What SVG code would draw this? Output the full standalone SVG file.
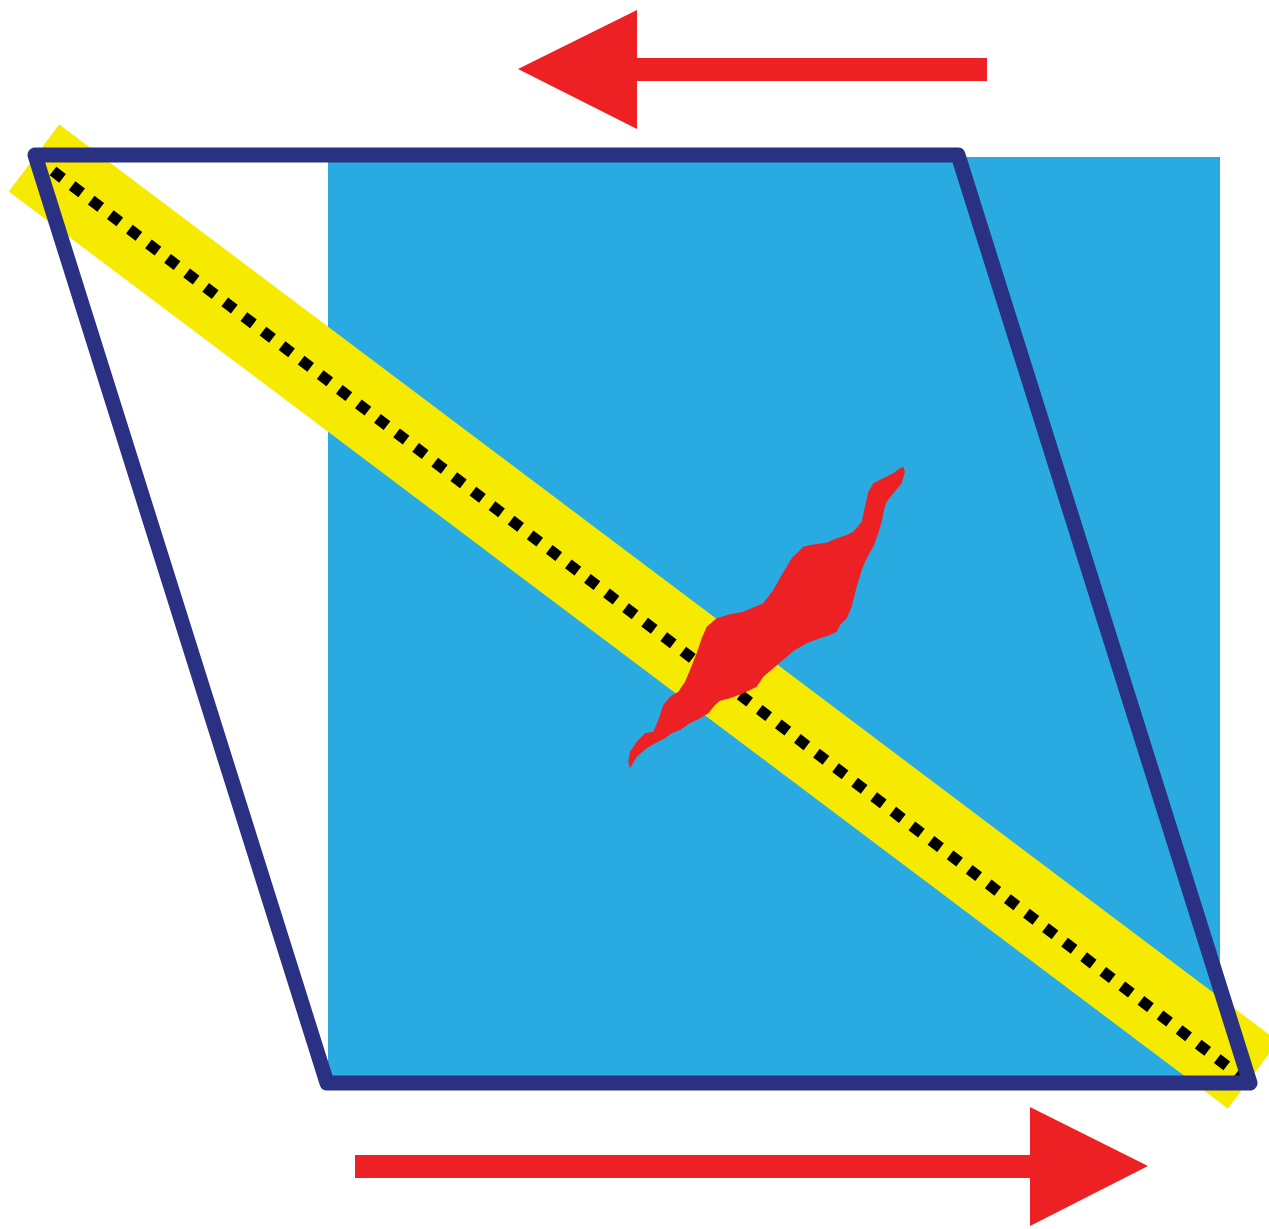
<svg xmlns="http://www.w3.org/2000/svg" width="1269" height="1229" viewBox="0 0 1269 1229">
<style>
.red{fill:#ED2024}
</style>
<rect width="1269" height="1229" fill="#ffffff"/>
<rect id="block" x="328" y="157" width="892" height="926" fill="#29ABE2"/>
<line id="band" x1="34" y1="158" x2="1253" y2="1075" stroke="#F5EA00" stroke-width="84"/>
<line id="dotted" x1="53" y1="171" x2="1244" y2="1079" stroke="#000" stroke-width="11" stroke-dasharray="12 12"/>
<path id="blob" class="red" d="M903.3,466.7 L905,471.7 L901.7,483.3 L893.3,493.3 L886.7,501.7 L884,510 L881.7,521.7 L878.3,533.3 L873.3,546.7 L866.7,558.3 L861.7,570 L856.7,586.7 L851.7,606.7 L846.7,618.3 L840,625 L836.7,631.7 L830,635 L820,638.3 L806.7,643.3 L795,650 L785,658.3 L775,666.7 L763.3,676.7 L756.7,686.7 L743.3,693.3 L730,698.3 L720,700.7 L715,705 L708.3,713.3 L700,718.3 L690,723.3 L680,730 L671.7,733.3 L665,738.3 L655,743.3 L646.7,748.3 L636.7,756.7 L630,768.3 L628.3,761.7 L630,751.7 L636.7,741.7 L645,733.3 L653.3,731.7 L658.3,720 L663.3,705 L670,696.7 L678.3,691.7 L685,681.7 L690,670 L696.7,653.3 L701.7,638.3 L706.7,626.7 L716.7,618.3 L730,614.3 L743.3,611.7 L755,606.7 L763.3,603.3 L773.3,590 L781.7,575 L791.7,558.3 L803.3,546.7 L810,545 L826.7,542.7 L836.7,538.3 L846.7,535 L853.3,531.7 L861.7,521.7 L865,506.7 L868.3,491.7 L873.3,483.3 L883.3,478.3 L893.3,473.3 L900,468.3 Z"/>
<polygon id="frame" points="35,155 958,155 1250,1083 327,1083" fill="none" stroke="#2B3182" stroke-width="15" stroke-linejoin="round"/>
<g id="arrows">
<polygon id="arrow-top" class="red" points="518,69 637,10 637,58 987,58 987,81 637,81 637,129"/>
<polygon id="arrow-bottom" class="red" points="1148,1166 1030,1107 1030,1155 355,1155 355,1178 1030,1178 1030,1226"/>
</g>
</svg>
